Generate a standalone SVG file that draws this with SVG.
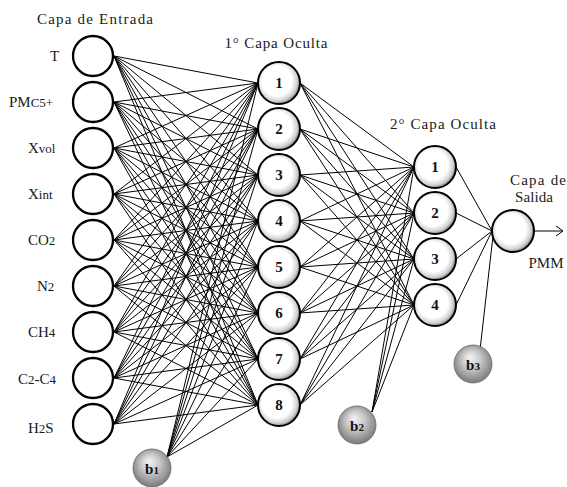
<svg xmlns="http://www.w3.org/2000/svg" width="567" height="487" viewBox="0 0 567 487">
<defs>
<radialGradient id="gNode" cx="0.45" cy="0.45" r="0.55">
<stop offset="0" stop-color="#ffffff"/>
<stop offset="0.65" stop-color="#ffffff"/>
<stop offset="0.88" stop-color="#d0d0d0"/>
<stop offset="1" stop-color="#8a8a8a"/>
</radialGradient>
<radialGradient id="gBias" cx="0.5" cy="0.45" r="0.55" fx="0.42" fy="0.32">
<stop offset="0" stop-color="#f4f4f4"/>
<stop offset="0.45" stop-color="#c8c8c8"/>
<stop offset="1" stop-color="#7a7a7a"/>
</radialGradient>
<style>
.lbl{font-family:"Liberation Serif","Times New Roman",serif;font-size:15px;fill:#1a1a1a}
.sub{font-size:13px}
.num{font-family:"Liberation Serif","Times New Roman",serif;font-size:15px;font-weight:bold;fill:#111;text-anchor:middle}
.in{fill:#fff;stroke:#000;stroke-width:2.3}
.hid{fill:url(#gNode);stroke:#000;stroke-width:2}
.bias{fill:url(#gBias);stroke:#666;stroke-width:0.8}
.con{fill:none;stroke:#000;stroke-width:1}
</style>
</defs>
<rect width="567" height="487" fill="#fff"/>

<g id="connectors" class="con">
<path d="M114 56L258 83M114 56L258 129M114 56L258 175M114 56L258 221M114 56L258 267M114 56L258 313M114 56L258 359M114 56L258 405"/>
<path d="M114 102L258 83M114 102L258 129M114 102L258 175M114 102L258 221M114 102L258 267M114 102L258 313M114 102L258 359M114 102L258 405"/>
<path d="M114 148L258 83M114 148L258 129M114 148L258 175M114 148L258 221M114 148L258 267M114 148L258 313M114 148L258 359M114 148L258 405"/>
<path d="M114 194L258 83M114 194L258 129M114 194L258 175M114 194L258 221M114 194L258 267M114 194L258 313M114 194L258 359M114 194L258 405"/>
<path d="M114 240L258 83M114 240L258 129M114 240L258 175M114 240L258 221M114 240L258 267M114 240L258 313M114 240L258 359M114 240L258 405"/>
<path d="M114 286L258 83M114 286L258 129M114 286L258 175M114 286L258 221M114 286L258 267M114 286L258 313M114 286L258 359M114 286L258 405"/>
<path d="M114 332L258 83M114 332L258 129M114 332L258 175M114 332L258 221M114 332L258 267M114 332L258 313M114 332L258 359M114 332L258 405"/>
<path d="M114 378L258 83M114 378L258 129M114 378L258 175M114 378L258 221M114 378L258 267M114 378L258 313M114 378L258 359M114 378L258 405"/>
<path d="M114 424L258 83M114 424L258 129M114 424L258 175M114 424L258 221M114 424L258 267M114 424L258 313M114 424L258 359M114 424L258 405"/>
<path d="M167 457L258 83M167 457L258 129M167 457L258 175M167 457L258 221M167 457L258 267M167 457L258 313M167 457L258 359M167 457L258 405"/>
<path d="M300 83L414 167M300 83L414 213M300 83L414 259M300 83L414 305"/>
<path d="M300 129L414 167M300 129L414 213M300 129L414 259M300 129L414 305"/>
<path d="M300 175L414 167M300 175L414 213M300 175L414 259M300 175L414 305"/>
<path d="M300 221L414 167M300 221L414 213M300 221L414 259M300 221L414 305"/>
<path d="M300 267L414 167M300 267L414 213M300 267L414 259M300 267L414 305"/>
<path d="M300 313L414 167M300 313L414 213M300 313L414 259M300 313L414 305"/>
<path d="M300 359L414 167M300 359L414 213M300 359L414 259M300 359L414 305"/>
<path d="M300 405L414 167M300 405L414 213M300 405L414 259M300 405L414 305"/>
<path d="M372 412L414 167M372 412L414 213M372 412L414 259M372 412L414 305"/>
<path d="M456 167L492 231M456 213L492 231M456 259L492 231M456 305L492 231"/>
<path d="M480 350L493 236"/>
<path d="M534 231H562M556 226L563 231L556 236"/>
</g>

<g id="input-layer">
<text class="lbl" x="95" y="24" text-anchor="middle" textLength="116" lengthAdjust="spacing">Capa de Entrada</text>
<g id="in-T"><circle class="in" cx="93" cy="56" r="20"/><text class="lbl" x="50" y="61">T</text></g>
<g id="in-PMC5"><circle class="in" cx="93" cy="102" r="20"/><text class="lbl" x="9" y="107">PM<tspan class="sub">C5+</tspan></text></g>
<g id="in-Xvol"><circle class="in" cx="93" cy="148" r="20"/><text class="lbl" x="28" y="153">X<tspan class="sub">vol</tspan></text></g>
<g id="in-Xint"><circle class="in" cx="93" cy="194" r="20"/><text class="lbl" x="28" y="199">X<tspan class="sub">int</tspan></text></g>
<g id="in-CO2"><circle class="in" cx="93" cy="240" r="20"/><text class="lbl" x="28" y="245">CO<tspan class="sub">2</tspan></text></g>
<g id="in-N2"><circle class="in" cx="93" cy="286" r="20"/><text class="lbl" x="37" y="291">N<tspan class="sub">2</tspan></text></g>
<g id="in-CH4"><circle class="in" cx="93" cy="332" r="20"/><text class="lbl" x="28" y="337">CH<tspan class="sub">4</tspan></text></g>
<g id="in-C2C4"><circle class="in" cx="93" cy="378" r="20"/><text class="lbl" x="18" y="384">C<tspan class="sub">2</tspan>-C<tspan class="sub">4</tspan></text></g>
<g id="in-H2S"><circle class="in" cx="93" cy="424" r="20"/><text class="lbl" x="28" y="433">H<tspan class="sub">2</tspan>S</text></g>
</g>

<g id="hidden1-layer">
<text class="lbl" x="276" y="48" text-anchor="middle" textLength="103" lengthAdjust="spacing">1° Capa Oculta</text>
<g id="h1-1"><circle class="hid" cx="279" cy="83" r="21"/><text class="num" x="279" y="88">1</text></g>
<g id="h1-2"><circle class="hid" cx="279" cy="129" r="21"/><text class="num" x="279" y="134">2</text></g>
<g id="h1-3"><circle class="hid" cx="279" cy="175" r="21"/><text class="num" x="279" y="180">3</text></g>
<g id="h1-4"><circle class="hid" cx="279" cy="221" r="21"/><text class="num" x="279" y="226">4</text></g>
<g id="h1-5"><circle class="hid" cx="279" cy="267" r="21"/><text class="num" x="279" y="272">5</text></g>
<g id="h1-6"><circle class="hid" cx="279" cy="313" r="21"/><text class="num" x="279" y="318">6</text></g>
<g id="h1-7"><circle class="hid" cx="279" cy="359" r="21"/><text class="num" x="279" y="364">7</text></g>
<g id="h1-8"><circle class="hid" cx="279" cy="405" r="21"/><text class="num" x="279" y="410">8</text></g>
</g>

<g id="hidden2-layer">
<text class="lbl" x="443" y="129" text-anchor="middle" textLength="106" lengthAdjust="spacing">2° Capa Oculta</text>
<g id="h2-1"><circle class="hid" cx="435" cy="167" r="21"/><text class="num" x="435" y="172">1</text></g>
<g id="h2-2"><circle class="hid" cx="435" cy="213" r="21"/><text class="num" x="435" y="218">2</text></g>
<g id="h2-3"><circle class="hid" cx="435" cy="259" r="21"/><text class="num" x="435" y="264">3</text></g>
<g id="h2-4"><circle class="hid" cx="435" cy="305" r="21"/><text class="num" x="435" y="310">4</text></g>
</g>

<g id="output-layer">
<text class="lbl" x="538" y="185" text-anchor="middle" textLength="56" lengthAdjust="spacing">Capa de</text>
<text class="lbl" x="534" y="202" text-anchor="middle" textLength="38" lengthAdjust="spacing">Salida</text>
<g id="out-1"><circle class="hid" cx="513" cy="231" r="21"/></g>
<text class="lbl" x="546" y="268" text-anchor="middle">PMM</text>
</g>

<g id="bias-b1"><circle class="bias" cx="152" cy="468" r="19"/><text class="num" x="152" y="474">b<tspan font-size="11">1</tspan></text></g>
<g id="bias-b2"><circle class="bias" cx="357" cy="425" r="19"/><text class="num" x="357" y="431">b<tspan font-size="11">2</tspan></text></g>
<g id="bias-b3"><circle class="bias" cx="473" cy="364" r="19"/><text class="num" x="473" y="370">b<tspan font-size="11">3</tspan></text></g>
</svg>
